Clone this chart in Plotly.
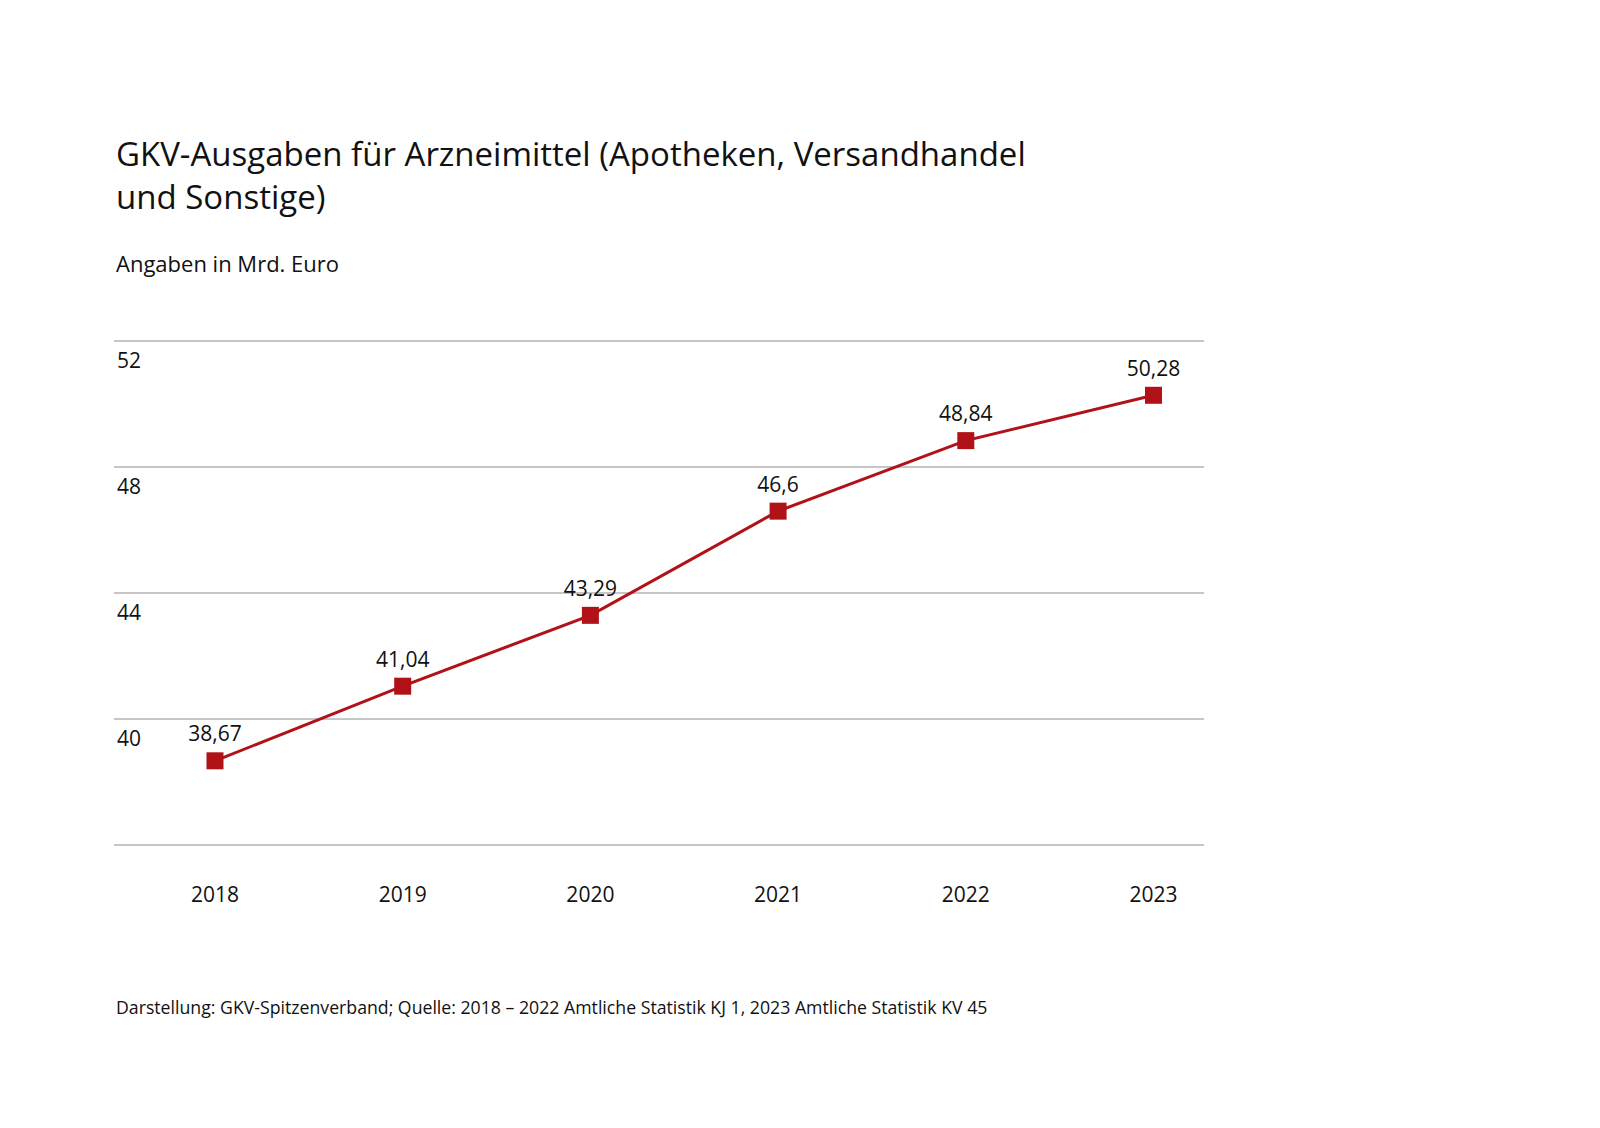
import plotly.graph_objects as go

years = ["2018", "2019", "2020", "2021", "2022", "2023"]
values = [38.67, 41.04, 43.29, 46.6, 48.84, 50.28]
labels = ["38,67", "41,04", "43,29", "46,6", "48,84", "50,28"]
y_ticks = [36, 40, 44, 48, 52]
y_ticklabels = ["", "40", "44", "48", "52"]

title_text = "GKV-Ausgaben für Arzneimittel (Apotheken, Versandhandel<br>und Sonstige)"
subtitle_text = "Angaben in Mrd. Euro"
source_text = "Darstellung: GKV-Spitzenverband; Quelle: 2018 – 2022 Amtliche Statistik KJ 1, 2023 Amtliche Statistik KV 45"

RED = "#b01217"
FONT = "Open Sans"
OFF = 8  # body margin of the page
W, H = 1584, 1100
ML, MT = 106, 329.5
PW, PH = 1090, 511
MR = W - ML - PW
MB = H - MT - PH


def py(page_y):
    # page pixel -> paper y
    return (MT + PH - (page_y - OFF)) / PH


fig = go.Figure()
fig.add_trace(go.Scatter(
    x=years, y=values, mode="lines+markers",
    line=dict(color=RED, width=3),
    marker=dict(symbol="square", size=17, color=RED),
    cliponaxis=False, hoverinfo="skip", showlegend=False,
))
fig.add_trace(go.Scatter(
    x=years, y=values, mode="markers+text",
    marker=dict(symbol="square", size=21, color="rgba(0,0,0,0)"),
    text=labels, textposition="top center",
    textfont=dict(family=FONT, size=21, color="#111111"),
    cliponaxis=False, hoverinfo="skip", showlegend=False,
))

fig.update_layout(
    width=W, height=H,
    margin=dict(l=ML, r=MR, t=MT, b=MB),
    paper_bgcolor="white", plot_bgcolor="white",
    font=dict(family=FONT, color="#111111"),
    xaxis=dict(
        type="category", range=[-0.538, 5.269],
        showgrid=False, zeroline=False, showline=False, ticks="",
        tickfont=dict(family=FONT, size=21, color="#111111"),
        ticklabelstandoff=32,
    ),
    yaxis=dict(
        range=[35.9, 52.1], tickvals=y_ticks, ticktext=y_ticklabels,
        showgrid=True, gridcolor="#c6c6c6", gridwidth=1.5,
        zeroline=False, showline=False, ticks="",
        ticklabelposition="inside bottom", ticklabelshift=5,
        tickfont=dict(family=FONT, size=21, color="#111111"),
    ),
    annotations=[
        dict(text=title_text, xref="paper", yref="paper", x=0, y=py(128),
             xanchor="left", yanchor="top", align="left", showarrow=False,
             font=dict(family=FONT, size=33, color="#111111")),
        dict(text=subtitle_text, xref="paper", yref="paper", x=0, y=py(262),
             xanchor="left", yanchor="middle", align="left", showarrow=False,
             font=dict(family=FONT, size=22, color="#111111")),
        dict(text=source_text, xref="paper", yref="paper", x=0, y=py(1008),
             xanchor="left", yanchor="middle", align="left", showarrow=False,
             font=dict(family=FONT, size=17.7, color="#111111")),
    ],
)

fig.write_html("out.html")
